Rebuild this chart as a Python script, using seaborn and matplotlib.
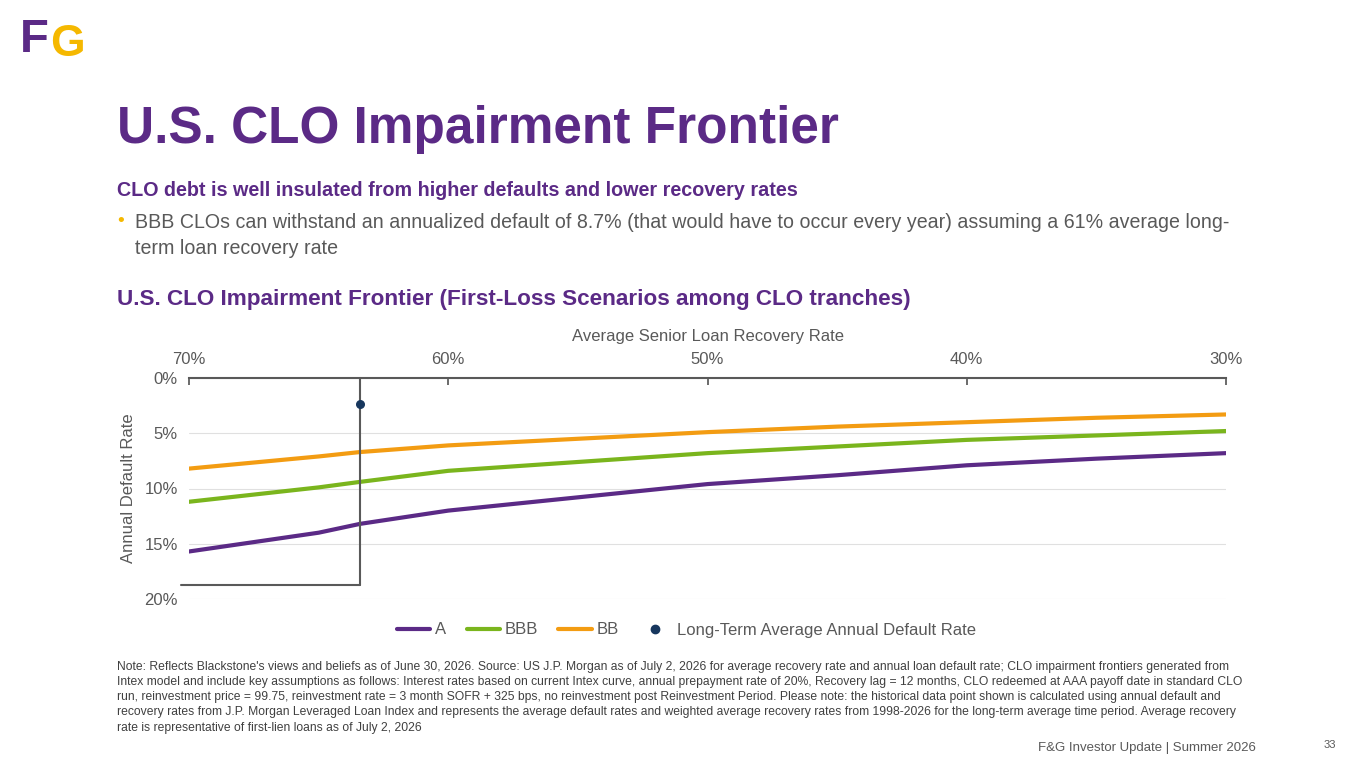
import matplotlib
matplotlib.use("Agg")
import matplotlib.pyplot as plt
import seaborn as sns
import pandas as pd

recovery = [70, 65, 63.4, 60, 55, 50, 45, 40, 35, 30]
a_def   = [15.7, 14.0, 13.2, 12.0, 10.8, 9.6, 8.8, 7.9, 7.3, 6.8]
bbb_def = [11.2, 9.9, 9.4, 8.4, 7.6, 6.8, 6.2, 5.6, 5.2, 4.8]
bb_def  = [8.2, 7.1, 6.7, 6.1, 5.5, 4.9, 4.4, 4.0, 3.6, 3.3]
lt_recovery, lt_default = 63.4, 2.35
guide_default = 18.7
x_ticks = [70, 60, 50, 40, 30]
y_ticks = [0, 5, 10, 15, 20]

sns.set_theme(style="white")
plt.rcParams['font.family'] = ['Liberation Sans', 'DejaVu Sans']
PURPLE = "#5b2a86"
GRAY = "#595959"

fig = plt.figure(figsize=(13.65, 7.68), dpi=100)
ax = fig.add_axes([189/1365, 1-599/768, (1226-189)/1365, (599-378)/768])

df = pd.DataFrame({"rec": recovery * 3,
                   "def": a_def + bbb_def + bb_def,
                   "s": ["A"]*10 + ["BBB"]*10 + ["BB"]*10})
sns.lineplot(data=df, x="rec", y="def", hue="s", palette=[PURPLE, "#7ab51d", "#f39c12"],
             lw=3, ax=ax, legend=False)
ax.plot([lt_recovery, lt_recovery], [0, guide_default], color=GRAY, lw=1.5, clip_on=False)
ax.plot([70.3, lt_recovery], [guide_default, guide_default], color=GRAY, lw=1.5, clip_on=False)
ax.scatter([lt_recovery], [lt_default], color="#17375e", s=30, zorder=5)

ax.set_xlim(70, 30)
ax.set_ylim(20, 0)
ax.xaxis.tick_top()
ax.xaxis.set_label_position("top")
ax.set_xticks(x_ticks)
ax.set_xticklabels([f"{v}%" for v in x_ticks])
ax.set_yticks(y_ticks)
ax.set_yticklabels([f"{v}%" for v in y_ticks])
ax.tick_params(axis='both', labelsize=12, colors=GRAY, length=0, pad=8)
ax.tick_params(axis='x', top=True, length=5, color=GRAY, direction='in')
ax.set_xlabel("Average Senior Loan Recovery Rate", fontsize=12, color=GRAY, labelpad=8)
ax.set_ylabel("Annual Default Rate", fontsize=12, color=GRAY, labelpad=6)
for s in ["left", "right", "bottom"]:
    ax.spines[s].set_visible(False)
ax.spines["top"].set_color(GRAY)
ax.spines["top"].set_linewidth(1.5)
ax.grid(axis='y', color="#e0e0e0", lw=0.8)

from matplotlib.lines import Line2D
handles = [Line2D([], [], color=PURPLE, lw=3), Line2D([], [], color="#7ab51d", lw=3),
           Line2D([], [], color="#f39c12", lw=3),
           Line2D([], [], color="#17375e", marker="o", ls="", ms=6)]
fig.legend(handles, ["A", "BBB", "BB", "Long-Term Average Annual Default Rate"],
           loc="center", bbox_to_anchor=(0.503, 1-630/768), ncol=4, frameon=False,
           fontsize=12, labelcolor=GRAY, handlelength=2, columnspacing=1.2, handletextpad=0.3)

fig.text(20/1365, 1-40/768, "F", fontsize=34, weight="bold", color=PURPLE, va="center")
fig.text(50/1365, 1-45/768, "G", fontsize=32, weight="bold", color="#f5b800", va="center")
fig.text(117/1365, 1-130/768, "U.S. CLO Impairment Frontier", fontsize=37, weight="bold",
         color=PURPLE, va="center")
fig.text(117/1365, 1-190/768, "CLO debt is well insulated from higher defaults and lower recovery rates",
         fontsize=14.2, weight="bold", color=PURPLE, va="center")
fig.text(117/1365, 1-222/768, "•", fontsize=14, color="#f5b800", va="center")
fig.text(135/1365, 1-222/768, "BBB CLOs can withstand an annualized default of 8.7% (that would have to occur every year) assuming a 61% average long-",
         fontsize=14.1, color=GRAY, va="center")
fig.text(135/1365, 1-248/768, "term loan recovery rate", fontsize=14.1, color=GRAY, va="center")
fig.text(117/1365, 1-300/768, "U.S. CLO Impairment Frontier (First-Loss Scenarios among CLO tranches)",
         fontsize=16.2, weight="bold", color=PURPLE, va="center")
note = ("Note: Reflects Blackstone's views and beliefs as of June 30, 2026. Source: US J.P. Morgan as of July 2, 2026 for average recovery rate and annual loan default rate; CLO impairment frontiers generated from\n"
        "Intex model and include key assumptions as follows: Interest rates based on current Intex curve, annual prepayment rate of 20%, Recovery lag = 12 months, CLO redeemed at AAA payoff date in standard CLO\n"
        "run, reinvestment price = 99.75, reinvestment rate = 3 month SOFR + 325 bps, no reinvestment post Reinvestment Period. Please note: the historical data point shown is calculated using annual default and\n"
        "recovery rates from J.P. Morgan Leveraged Loan Index and represents the average default rates and weighted average recovery rates from 1998-2026 for the long-term average time period. Average recovery\n"
        "rate is representative of first-lien loans as of July 2, 2026")
fig.text(117/1365, 1-661/768, note, fontsize=8.75, color="#404040", va="top", linespacing=1.35)
fig.text(1256/1365, 1-748/768, "F&G Investor Update | Summer 2026", fontsize=9.5, color=GRAY, ha="right", va="center")
fig.text(1336/1365, 1-745/768, "33", fontsize=8, color=GRAY, ha="right", va="center")

fig.savefig("out.png", dpi=100)
